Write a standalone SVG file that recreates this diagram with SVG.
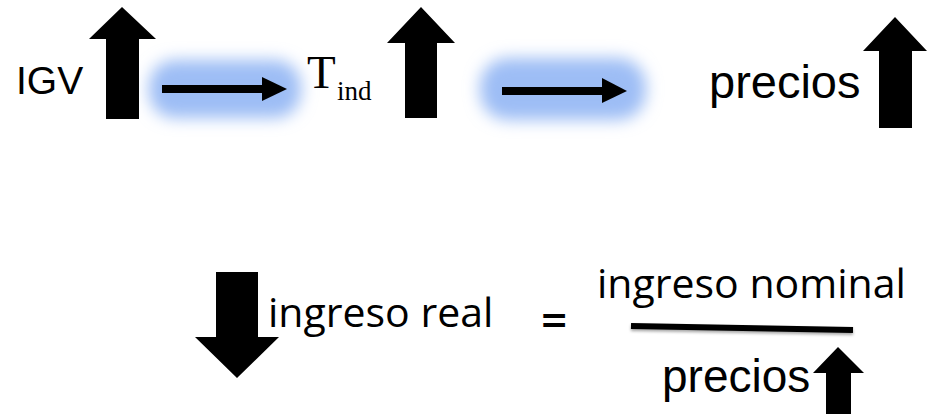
<svg xmlns="http://www.w3.org/2000/svg" width="927" height="414" viewBox="0 0 927 414">
<style>
.blk{fill:#000}
.sans{font-family:"Liberation Sans",Arial,sans-serif;fill:#000}
.serif{font-family:"Liberation Serif","Times New Roman",serif;fill:#000}
.cal{font-family:"Open Sans","Noto Sans",sans-serif;fill:#000}
.glow{fill:#9dbdf5;filter:url(#blur)}
</style>
<defs>
<filter id="blur" x="-40%" y="-80%" width="180%" height="260%"><feGaussianBlur stdDeviation="8"/></filter>
<filter id="shadow" x="-5%" y="-100%" width="110%" height="400%"><feDropShadow dx="0" dy="2" stdDeviation="1.5" flood-color="#000" flood-opacity="0.35"/></filter>
</defs>
<rect width="927" height="414" fill="#fff"/>
<g id="connectors">
<rect class="glow" x="149" y="60" width="152" height="58" rx="26"/>
<rect class="glow" x="480" y="58" width="166" height="62" rx="28"/>
<rect class="blk" x="162" y="85" width="101" height="8"/>
<polygon class="blk" points="262,77 287,89 262,101"/>
<rect class="blk" x="502" y="87" width="101" height="8"/>
<polygon class="blk" points="602,78 627,91 602,103"/>
</g>
<g id="igv">
<text class="sans" x="16" y="94" font-size="39">IGV</text>
<polygon class="blk" points="122,7 156,39 139,39 139,119 106,119 106,39 89,39"/>
</g>
<g id="tind">
<text class="serif" x="307" y="88" font-size="47">T</text>
<text class="serif" x="337" y="100" font-size="27">ind</text>
<polygon class="blk" points="421,7 455,43 437,43 437,118 405,118 405,43 387,43"/>
</g>
<g id="precios-top">
<text class="sans" x="709" y="98" font-size="47">precios</text>
<polygon class="blk" points="895,17 927,51 912,51 912,128 879,128 879,51 863,51"/>
</g>
<g id="ingreso-real">
<polygon class="blk" points="216,272 258,272 258,337 279,337 237,378 195,337 216,337"/>
<text class="cal" x="268" y="327" font-size="41">ingreso real</text>
</g>
<g id="equals">
<text class="cal" x="541" y="337" font-size="46" font-weight="600">=</text>
</g>
<g id="fraction">
<text class="cal" x="597" y="298" font-size="41">ingreso nominal</text>
<line x1="631" y1="326" x2="853" y2="330" stroke="#000" stroke-width="6" filter="url(#shadow)"/>
<text class="sans" x="662" y="392" font-size="46">precios</text>
<polygon class="blk" points="838,347 864,373 851,373 851,414 826,414 826,373 813,373"/>
</g>
</svg>
